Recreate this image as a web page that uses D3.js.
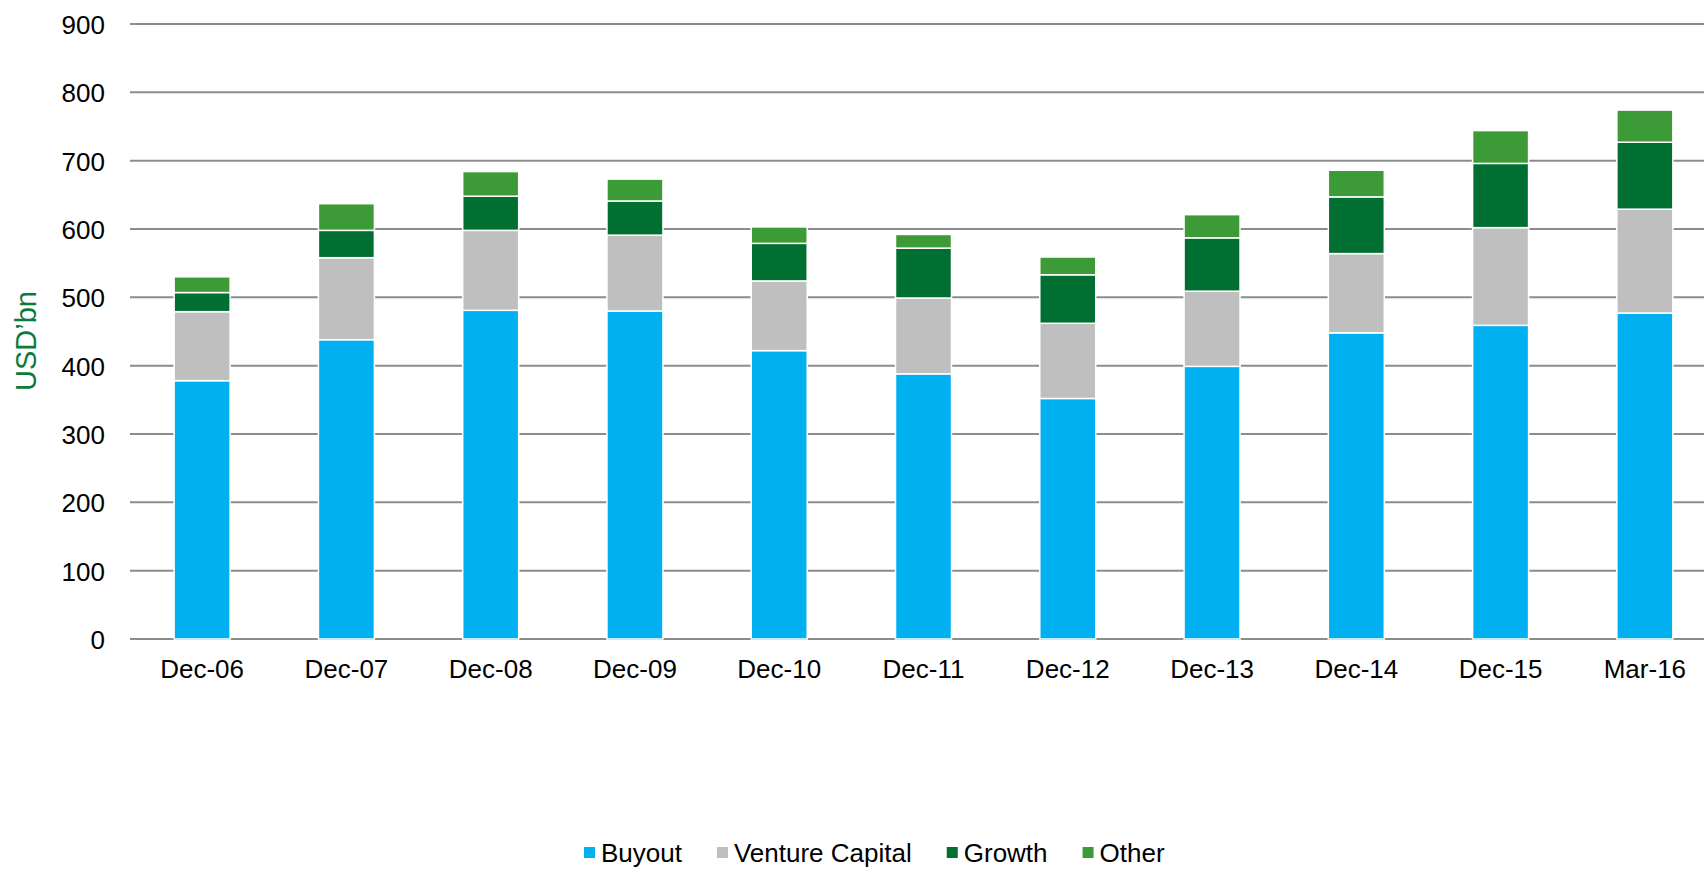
<!DOCTYPE html>
<meta charset="utf-8">
<style>
body {
  margin: 0;
  background: #fff;
  font-family: "Liberation Sans", Arial, Helvetica, sans-serif;
}
.grid line {
  stroke: #8c8c8c;
  stroke-width: 2px;
}
.tick text {
  font-size: 26px;
  fill: #000;
}
.legend text {
  font-size: 26px;
  fill: #000;
}
</style>
<body>
<script src="https://d3js.org/d3.v7.min.js"></script>
<script>

// data (USD bn)
var periods = ["Dec-06", "Dec-07", "Dec-08", "Dec-09", "Dec-10", "Dec-11", "Dec-12", "Dec-13", "Dec-14", "Dec-15", "Mar-16"];
var buyout  = [378, 438, 481, 480, 422, 388, 352, 399, 448, 459, 477];
var venture = [101, 120, 117, 111, 102, 111, 110, 110, 116, 143, 152];
var growth  = [28, 40, 50, 50, 55, 73, 71, 78, 83, 94, 98];
var other   = [23, 39, 36, 32, 24, 20, 26, 34, 39, 48, 47];
var seriesNames = ["Buyout", "Venture Capital", "Growth", "Other"];
var yTicks = [0, 100, 200, 300, 400, 500, 600, 700, 800, 900];

var colors = {
  "Buyout": "#00b0f0",
  "Venture Capital": "#bfbfbf",
  "Growth": "#006f31",
  "Other": "#3c9a37"
};

// build rows for d3.stack
var rows = periods.map(function(p, i) {
  return {period: p, "Buyout": buyout[i], "Venture Capital": venture[i], "Growth": growth[i], "Other": other[i]};
});

var W = 1704, H = 875;
var plotLeft = 130, plotRight = 1717, plotTop = 24, plotBottom = 639;

var svg = d3.select("body").append("svg")
    .attr("width", W)
    .attr("height", H);

var x = d3.scaleBand()
    .domain(periods)
    .range([plotLeft, plotRight])
    .paddingInner(0.612)
    .paddingOuter(0.306);

var y = d3.scaleLinear()
    .domain([0, 900])
    .range([plotBottom, plotTop]);

// gridlines
svg.append("g")
    .attr("class", "grid")
    .selectAll("line")
    .data(yTicks)
  .enter().append("line")
    .attr("x1", plotLeft)
    .attr("x2", W)
    .attr("y1", function(d) { return y(d); })
    .attr("y2", function(d) { return y(d); });

// y axis labels
var yAxis = svg.append("g")
    .attr("transform", "translate(" + plotLeft + ",0)")
    .call(d3.axisLeft(y).tickValues(yTicks).tickSize(0).tickPadding(25));
yAxis.select(".domain").remove();
yAxis.selectAll("text").attr("dy", "0.36em");

// stacked bars
var stack = d3.stack().keys(seriesNames);
var layers = stack(rows);

svg.append("g")
  .selectAll("g")
  .data(layers)
  .enter().append("g")
    .attr("fill", function(d) { return colors[d.key]; })
  .selectAll("rect")
  .data(function(d) { return d; })
  .enter().append("rect")
    .attr("x", function(d) { return x(d.data.period); })
    .attr("width", x.bandwidth())
    .attr("y", function(d) { return y(d[1]); })
    .attr("height", function(d) { return y(d[0]) - y(d[1]); })
    .attr("stroke", "#fff")
    .attr("stroke-width", 1.5);

// x axis labels
var xAxis = svg.append("g")
    .attr("transform", "translate(0," + plotBottom + ")")
    .call(d3.axisBottom(x).tickSize(0).tickPadding(21));
xAxis.select(".domain").remove();

// y axis title
svg.append("text")
    .attr("transform", "translate(36,341) rotate(-90)")
    .attr("text-anchor", "middle")
    .style("font-size", "29px")
    .style("fill", "#0b7a3c")
    .text("USD\u2019bn");

// legend
var legend = svg.append("g").attr("class", "legend");
var lx = 584, ly = 862;
seriesNames.forEach(function(name) {
  legend.append("rect")
      .attr("x", lx)
      .attr("y", ly - 15)
      .attr("width", 11)
      .attr("height", 11)
      .attr("fill", colors[name]);
  var t = legend.append("text")
      .attr("x", lx + 17)
      .attr("y", ly)
      .text(name);
  lx = lx + 17 + t.node().getComputedTextLength() + 35;
});

</script>
</body>
